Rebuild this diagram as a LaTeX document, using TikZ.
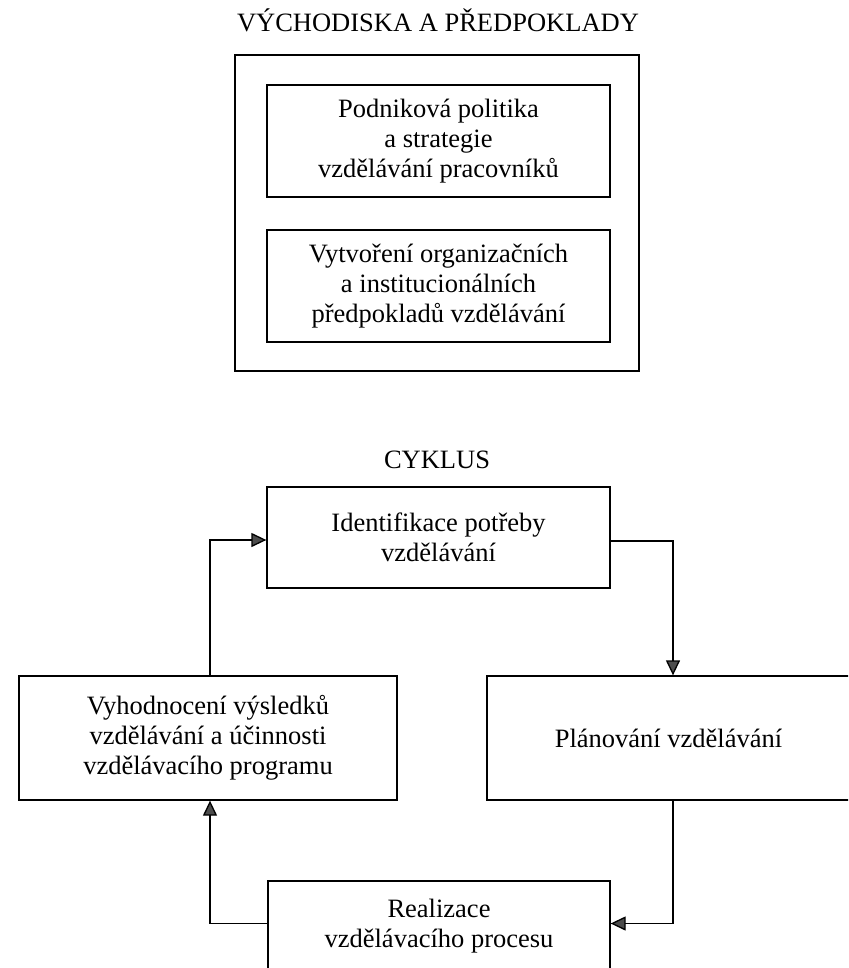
\documentclass[tikz,border=0pt]{standalone}
\usepackage{fontspec}
\setmainfont{Liberation Serif}
\usetikzlibrary{arrows.meta}
\tikzset{
  box/.style={draw=black, line width=1.3pt, align=center, inner sep=0pt,
    font=\fontsize{26.5}{30}\selectfont},
  ttl/.style={font=\fontsize{26.5}{30}\selectfont, inner sep=0pt, anchor=base},
  conn/.style={line width=1.3pt, -{Triangle[length=15pt,width=14pt,fill=black!70]}}
}
\begin{document}
\begin{tikzpicture}[x=1pt,y=-1pt]
\useasboundingbox (0,0) rectangle (848,968);
\clip (0,0) rectangle (848,968);
\node[ttl] (t1) at (438,32) {VÝCHODISKA A PŘEDPOKLADY};
\node[box, minimum width=404, minimum height=316] (outer) at (437,213) {};
\node[box, minimum width=343, minimum height=112] (p1) at (438.5,141) {Podniková politika\\a strategie\\vzdělávání pracovníků};
\node[box, minimum width=343, minimum height=112] (p2) at (438.5,286) {Vytvoření organizačních\\a institucionálních\\předpokladů vzdělávání};
\node[ttl] (t2) at (437,468) {CYKLUS};
\node[box, minimum width=343, minimum height=101] (ident) at (438.5,537.5) {Identifikace potřeby\\vzdělávání};
\node[box, minimum width=378, minimum height=124] (vyh) at (208,738) {Vyhodnocení výsledků\\vzdělávání a účinnosti\\vzdělávacího programu};
\node[box, minimum width=363, minimum height=124] (plan) at (668.5,738) {Plánování vzdělávání};
\node[box, minimum width=342, minimum height=91] (real) at (439,926.5) {Realizace\\vzdělávacího procesu};
\draw[conn] ([xshift=2pt]vyh.north) |- ([yshift=-2.5pt]ident.west);
\draw[conn] ([yshift=-3.5pt]ident.east) -| ([xshift=4.5pt]plan.north);
\draw[conn] ([xshift=4.5pt]plan.south) |- ([yshift=3pt]real.east);
\draw[conn] ([yshift=3pt]real.west) -| ([xshift=2pt]vyh.south);
\end{tikzpicture}
\end{document}
